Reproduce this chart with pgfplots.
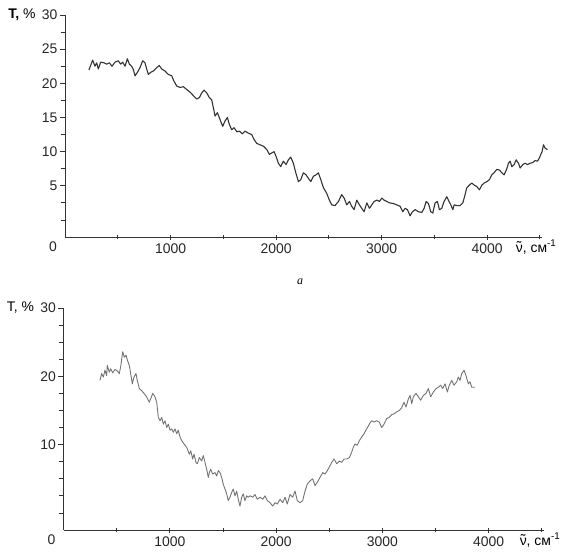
\documentclass[border=0pt]{standalone}
\usepackage{fontspec}
\setmainfont{Liberation Sans}
\newfontfamily\seriffont{Liberation Serif}
\usepackage{pgfplots}
\pgfplotsset{compat=1.18}
\usepackage{pgfplotstable}

\newcommand{\nutilde}{{\ooalign{ν\cr\hidewidth\raisebox{0.05em}{˜}\hidewidth\cr}}}

\pgfplotstableread{
v T
227 21.96
262 23.4
284 22.5
300 23.0
316 22.1
338 23.1
370 23.0
395 22.8
420 23.0
445 22.5
474 23.1
505 23.3
528 22.8
547 23.1
569 22.5
591 23.6
610 22.8
632 22.5
648 22.0
664 21.1
686 21.6
711 22.3
736 23.3
758 23.0
774 22.1
790 21.3
812 21.6
837 21.8
869 22.3
894 22.6
916 22.1
948 21.8
979 21.3
1011 21.1
1033 20.3
1059 19.6
1090 19.4
1122 19.5
1153 19.1
1185 18.7
1216 18.2
1248 17.7
1273 17.9
1296 18.6
1318 19.0
1343 18.6
1368 17.9
1390 17.6
1406 16.4
1422 15.2
1444 15.7
1469 14.7
1494 13.7
1517 14.5
1539 15.0
1557 14.0
1580 13.2
1602 13.5
1628 12.9
1652 13.0
1680 12.6
1706 13.0
1737 12.7
1769 12.5
1791 11.8
1817 11.2
1848 11.0
1880 10.8
1912 10.3
1937 9.6
1959 9.8
1981 10.0
2000 9.3
2022 8.3
2044 7.8
2069 8.6
2095 8.1
2117 8.8
2139 9.2
2164 8.3
2187 6.9
2212 5.6
2234 5.9
2259 6.9
2284 6.6
2306 6.1
2329 5.6
2354 6.4
2379 6.6
2401 6.9
2424 5.9
2449 4.7
2480 3.9
2505 2.9
2528 2.2
2559 2.1
2591 2.7
2622 3.7
2645 3.2
2670 2.2
2695 2.7
2717 2.0
2739 1.5
2765 2.9
2790 2.2
2812 1.7
2834 1.2
2860 2.5
2885 1.7
2907 2.2
2929 2.7
2955 2.9
2980 2.7
3002 3.2
3024 2.9
3049 2.7
3074 2.5
3112 2.4
3144 2.2
3175 2.0
3201 1.2
3223 1.7
3245 1.5
3270 0.6
3292 1.2
3318 1.5
3349 1.2
3381 1.1
3403 1.7
3422 2.7
3444 2.4
3466 1.2
3485 1.0
3507 2.5
3529 2.7
3548 1.5
3570 1.7
3592 2.7
3618 3.4
3633 2.9
3656 2.2
3675 1.5
3687 2.2
3713 2.1
3744 2.1
3770 2.5
3791 3.7
3807 4.7
3832 5.1
3855 5.4
3877 5.1
3902 4.9
3927 4.4
3950 5.1
3972 5.4
3997 5.6
4022 5.9
4044 6.6
4066 6.9
4092 7.4
4117 7.3
4139 6.9
4161 6.6
4187 7.5
4202 8.3
4218 8.6
4234 7.8
4256 8.1
4275 8.8
4297 8.3
4313 7.6
4338 8.1
4360 8.3
4382 8.1
4408 8.3
4433 8.4
4455 8.7
4477 8.6
4496 9.1
4509 9.6
4521 10.0
4534 11.0
4550 10.5
4572 10.3
}\topdata

\pgfplotstableread{
v T
343 19.4
359 20.4
375 19.9
390 20.9
406 20.1
412 21.6
431 20.6
444 21.1
463 20.5
484 21.0
506 20.8
525 20.4
538 21.4
557 23.6
572 22.8
588 23.1
600 22.4
619 21.6
632 20.4
647 18.9
663 19.9
682 20.4
694 19.4
713 18.2
735 17.9
757 17.5
782 17.0
807 16.2
820 16.7
839 17.5
861 17.0
877 16.2
892 14.0
908 13.5
924 14.0
939 13.0
955 13.5
971 12.5
986 13.0
1002 12.1
1018 12.3
1033 11.8
1049 12.3
1065 11.6
1080 12.1
1096 11.1
1112 10.6
1134 10.1
1159 9.6
1184 8.6
1197 9.1
1215 7.9
1228 8.6
1246 7.4
1259 7.2
1278 8.1
1300 7.6
1315 8.4
1331 7.4
1347 6.4
1362 5.2
1372 5.9
1385 6.4
1403 5.7
1425 5.9
1441 5.4
1456 6.2
1472 5.9
1488 5.2
1503 4.2
1519 3.5
1535 2.8
1550 1.8
1566 2.3
1582 3.0
1597 3.5
1613 2.5
1629 3.2
1644 2.0
1660 1.0
1676 2.3
1691 2.8
1707 1.8
1723 2.5
1738 2.3
1754 2.5
1780 2.3
1801 2.7
1823 2.0
1849 2.3
1874 2.0
1896 2.5
1917 1.8
1943 1.5
1968 1.0
1990 1.5
2011 1.3
2037 2.0
2062 1.5
2084 2.3
2105 1.3
2131 2.7
2156 2.3
2178 3.2
2199 1.8
2225 1.5
2250 1.8
2272 3.2
2293 4.2
2319 4.7
2344 5.0
2366 4.0
2388 4.5
2413 5.2
2438 5.9
2460 5.7
2482 6.2
2500 6.7
2523 7.4
2545 7.9
2570 7.2
2595 7.6
2617 7.4
2639 7.9
2664 7.9
2689 8.1
2711 8.9
2726 9.6
2742 10.1
2764 9.9
2783 10.6
2805 11.1
2827 11.6
2852 12.3
2877 13.0
2899 13.5
2921 13.3
2946 13.5
2971 13.3
2993 12.5
3015 13.0
3040 13.8
3065 14.0
3088 14.4
3109 14.5
3134 14.8
3159 15.0
3181 15.4
3203 16.2
3222 15.5
3244 16.7
3260 17.2
3276 16.0
3291 17.0
3316 17.5
3338 17.0
3360 16.5
3385 17.2
3410 17.5
3432 18.2
3454 17.0
3479 17.7
3504 18.2
3526 18.4
3548 18.7
3567 18.2
3589 18.9
3611 17.7
3629 18.7
3652 19.4
3674 18.7
3699 19.2
3714 19.9
3730 19.4
3746 20.4
3768 20.9
3786 20.1
3808 18.9
3824 19.2
3840 18.4
3871 18.4
}\botdata

\pgfplotsset{
  ftstyle/.style={
    scale only axis,
    axis x line*=bottom,
    axis y line*=left,
    axis line style={-, line width=0.9pt, black!80},
    xmin=0, xmax=4520,
    ymin=-2.5, ymax=30,
    clip=false,
    xtick={1000,2000,3000,4000},
    minor xtick={500,1500,2500,3500,4500},
    x tick style={black!80, line width=0.8pt},
    y tick style={black!80, line width=0.8pt},
    xtick align=center,
    ytick align=outside,
    major tick length=5bp,
    minor tick length=4bp,
    scaled x ticks=false,
    /pgf/number format/assume math mode=true,
    /pgf/number format/1000 sep={},
    tick label style={font=\fontsize{14}{16}\selectfont, text=black!85},
    yticklabel style={xshift=1bp},
    xticklabel style={yshift=-1bp},
    extra x ticks={0},
    extra x tick labels={0},
    extra x tick style={major tick length=0pt, tick label style={xshift=-12bp}},
  }
}

\begin{document}
\begin{tikzpicture}
\useasboundingbox (0,0) rectangle (571bp,-556bp);

% top panel
\begin{axis}[ftstyle,
  at={(65bp,-237bp)}, anchor=south west,
  width=477bp, height=222bp,
  ytick={5,10,15,20,25,30},
  minor ytick={0,2.5,7.5,12.5,17.5,22.5,27.5},
]
\addplot[color=black!80, line width=1.1pt, line join=round] table[x=v,y=T] {\topdata};
\node[anchor=east, font=\fontsize{14}{16}\selectfont] at (axis cs:0,30) [xshift=-26bp] {\textbf{T,} \%};
\node[anchor=north west, font=\fontsize{14}{16}\selectfont, inner sep=0pt] at (axis cs:4270,-2.5) [yshift=-3bp] {\nutilde, см\textsuperscript{-1}};
\end{axis}

\node[font=\seriffont\itshape\fontsize{12}{14}\selectfont] at (300bp,-282bp) {а};

% bottom panel
\begin{axis}[ftstyle,
  at={(63.5bp,-530bp)}, anchor=south west,
  width=480.5bp, height=222bp,
  ytick={10,20,30},
  minor ytick={0,2.5,5,7.5,12.5,15,17.5,22.5,25,27.5},
]
\addplot[color=black!55, line width=0.9pt, line join=round] table[x=v,y=T] {\botdata};
\node[anchor=east, font=\fontsize{14}{16}\selectfont] at (axis cs:0,30) [xshift=-26bp] {T, \%};
\node[anchor=north west, font=\fontsize{14}{16}\selectfont, inner sep=0pt] at (axis cs:4290,-2.5) [yshift=-3bp] {\nutilde, см\textsuperscript{-1}};
\end{axis}
\end{tikzpicture}
\end{document}
